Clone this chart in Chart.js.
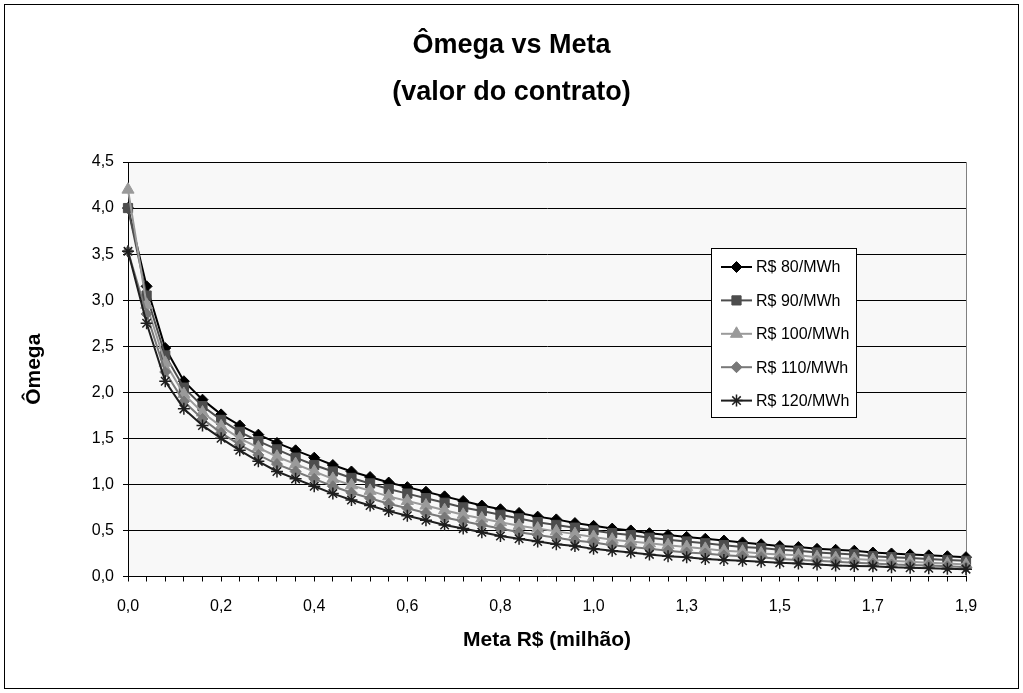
<!DOCTYPE html>
<html>
<head>
  <meta charset="utf-8">
  <title>Ômega vs Meta</title>
  <script src="https://cdn.jsdelivr.net/npm/chart.js"></script>
  <style>
    body { margin: 0; background: #fff; }
    #chart { display: block; }
  </style>
</head>
<body>
<canvas id="chart" width="1023" height="693"></canvas>
<script>
// meta em R$ milhões (46 pontos)
const meta = [0.000, 0.042, 0.083, 0.125, 0.167, 0.208, 0.250, 0.292, 0.333, 0.375,
  0.417, 0.458, 0.500, 0.542, 0.583, 0.625, 0.667, 0.708, 0.750, 0.792,
  0.833, 0.875, 0.917, 0.958, 1.000, 1.042, 1.083, 1.125, 1.167, 1.208,
  1.250, 1.292, 1.333, 1.375, 1.417, 1.458, 1.500, 1.542, 1.583, 1.625,
  1.667, 1.708, 1.750, 1.792, 1.833, 1.875];

const seriesNames = ['R$ 80/MWh', 'R$ 90/MWh', 'R$ 100/MWh', 'R$ 110/MWh', 'R$ 120/MWh'];

const omega80 = [4.00, 3.15, 2.48, 2.12, 1.92, 1.76, 1.64, 1.54, 1.45, 1.37, 1.29, 1.21, 1.14, 1.08, 1.02,
  0.97, 0.92, 0.87, 0.82, 0.77, 0.73, 0.69, 0.65, 0.62, 0.58, 0.55, 0.52, 0.50, 0.47, 0.45,
  0.43, 0.41, 0.39, 0.37, 0.35, 0.33, 0.32, 0.30, 0.29, 0.28, 0.26, 0.25, 0.24, 0.23, 0.22, 0.21];
const omega90 = [4.00, 3.05, 2.40, 2.05, 1.85, 1.70, 1.57, 1.47, 1.38, 1.29, 1.21, 1.14, 1.07, 1.01, 0.95,
  0.90, 0.85, 0.80, 0.75, 0.71, 0.67, 0.63, 0.59, 0.56, 0.53, 0.50, 0.47, 0.45, 0.42, 0.40,
  0.38, 0.36, 0.34, 0.32, 0.31, 0.29, 0.28, 0.26, 0.25, 0.24, 0.22, 0.21, 0.20, 0.19, 0.18, 0.17];
const omega100 = [4.20, 2.95, 2.32, 1.98, 1.78, 1.63, 1.50, 1.40, 1.30, 1.22, 1.14, 1.06, 0.99, 0.93, 0.87,
  0.82, 0.77, 0.72, 0.67, 0.63, 0.59, 0.55, 0.52, 0.49, 0.46, 0.43, 0.40, 0.38, 0.36, 0.34,
  0.32, 0.30, 0.28, 0.27, 0.25, 0.24, 0.23, 0.21, 0.20, 0.19, 0.18, 0.17, 0.16, 0.15, 0.14, 0.13];
const omega110 = [3.53, 2.85, 2.22, 1.90, 1.71, 1.56, 1.43, 1.32, 1.22, 1.14, 1.06, 0.98, 0.91, 0.85, 0.79,
  0.74, 0.69, 0.64, 0.60, 0.56, 0.52, 0.48, 0.45, 0.42, 0.39, 0.37, 0.34, 0.32, 0.30, 0.28,
  0.26, 0.25, 0.23, 0.22, 0.21, 0.19, 0.18, 0.17, 0.16, 0.15, 0.14, 0.13, 0.125, 0.12, 0.11, 0.10];
const omega120 = [3.53, 2.75, 2.12, 1.82, 1.64, 1.50, 1.37, 1.25, 1.14, 1.06, 0.98, 0.90, 0.83, 0.77, 0.71,
  0.66, 0.61, 0.56, 0.52, 0.48, 0.44, 0.41, 0.38, 0.35, 0.33, 0.30, 0.28, 0.26, 0.24, 0.22,
  0.21, 0.19, 0.18, 0.17, 0.16, 0.15, 0.14, 0.13, 0.12, 0.115, 0.11, 0.10, 0.095, 0.09, 0.085, 0.08];

const FONT = '"Liberation Sans", Arial, sans-serif';
const colors = ['#000000', '#4d4d4d', '#9a9a9a', '#787878', '#1e1e1e'];
const markers = ['rectRot', 'rect', 'triangle', 'rectRot', 'star'];
const radii = [5.5, 6.5, 7, 5.5, 6];
const values = [omega80, omega90, omega100, omega110, omega120];

const fmt = v => (Math.round(v * 10) / 10).toFixed(1).replace('.', ',');

const datasets = values.map((vals, i) => ({
  label: seriesNames[i],
  data: vals,
  borderColor: colors[i],
  backgroundColor: colors[i],
  pointBackgroundColor: colors[i],
  pointBorderColor: colors[i],
  pointStyle: markers[i],
  pointRadius: radii[i],
  pointBorderWidth: markers[i] === 'star' ? 1.5 : 1,
  borderWidth: 2,
  tension: 0,
  order: 4 - i
}));

// fundo, borda externa e título
const frame = {
  id: 'frame',
  beforeDraw(chart) {
    const {ctx, chartArea: a} = chart;
    ctx.save();
    ctx.fillStyle = '#fff';
    ctx.fillRect(0, 0, chart.width, chart.height);
    ctx.fillStyle = '#f8f8f8';
    ctx.fillRect(a.left, a.top, a.right - a.left, a.bottom - a.top);
    ctx.strokeStyle = '#000';
    ctx.lineWidth = 1;
    ctx.strokeRect(4.5, 4.5, chart.width - 9, chart.height - 9);
    ctx.strokeStyle = '#808080';
    ctx.beginPath();
    ctx.moveTo(Math.round(a.right) + 0.5, a.top);
    ctx.lineTo(Math.round(a.right) + 0.5, a.bottom);
    ctx.stroke();
    ctx.fillStyle = '#000';
    ctx.textAlign = 'center';
    ctx.textBaseline = 'middle';
    ctx.font = 'bold 27px ' + FONT;
    ctx.fillText('Ômega vs Meta', chart.width / 2, 46);
    ctx.fillText('(valor do contrato)', chart.width / 2, 93);
    ctx.restore();
  }
};

// legenda em caixa com linha + marcador
const boxLegend = {
  id: 'boxLegend',
  afterDraw(chart) {
    const {ctx} = chart;
    const x0 = 711.5, y0 = 248.5, w = 145, h = 169;
    ctx.save();
    ctx.fillStyle = '#fff';
    ctx.fillRect(x0, y0, w, h);
    ctx.strokeStyle = '#000';
    ctx.lineWidth = 1;
    ctx.strokeRect(x0, y0, w, h);
    chart.data.datasets.forEach((ds, i) => {
      const y = 267 + i * 33.4;
      ctx.strokeStyle = ds.borderColor;
      ctx.lineWidth = 2;
      ctx.beginPath();
      ctx.moveTo(721, y);
      ctx.lineTo(752, y);
      ctx.stroke();
      ctx.fillStyle = ds.pointBackgroundColor;
      ctx.strokeStyle = ds.pointBorderColor;
      ctx.lineWidth = ds.pointBorderWidth;
      Chart.helpers.drawPoint(ctx, {pointStyle: ds.pointStyle, radius: ds.pointRadius, rotation: 0, borderWidth: ds.pointBorderWidth}, 736.5, y);
      ctx.fillStyle = '#000';
      ctx.font = '16px ' + FONT;
      ctx.textAlign = 'left';
      ctx.textBaseline = 'middle';
      ctx.fillText(ds.label, 756, y + 1);
    });
    ctx.restore();
  }
};

new Chart(document.getElementById('chart'), {
  type: 'line',
  data: {labels: meta, datasets},
  plugins: [frame, boxLegend],
  options: {
    responsive: false,
    animation: false,
    devicePixelRatio: 1,
    layout: {padding: {top: 162, right: 57, bottom: 30, left: 0}},
    plugins: {legend: {display: false}, title: {display: false}, tooltip: {enabled: false}},
    scales: {
      x: {
        afterFit: s => { s.height = 86.5; },
        grid: {drawOnChartArea: false, drawTicks: true, tickLength: 5, color: '#000'},
        border: {color: '#000', width: 1},
        ticks: {
          autoSkip: false, maxRotation: 0, padding: 15, color: '#000',
          font: {family: FONT, size: 16},
          callback: (v, i) => i % 5 === 0 ? fmt(meta[i]) : ''
        },
        title: {display: true, text: 'Meta R$ (milhão)', color: '#000',
          font: {family: FONT, size: 21, weight: 'bold'}, padding: {top: 0, bottom: 10}}
      },
      y: {
        min: 0, max: 4.5,
        afterFit: s => { s.width = 128; },
        grid: {color: '#000', tickLength: 5},
        border: {color: '#000', width: 1},
        ticks: {stepSize: 0.5, padding: 9, color: '#000', font: {family: FONT, size: 16}, callback: v => fmt(v)},
        title: {display: true, text: 'Ômega', color: '#000',
          font: {family: FONT, size: 21, weight: 'bold'}, padding: {top: 22, bottom: 0}}
      }
    }
  }
});
</script>
</body>
</html>
